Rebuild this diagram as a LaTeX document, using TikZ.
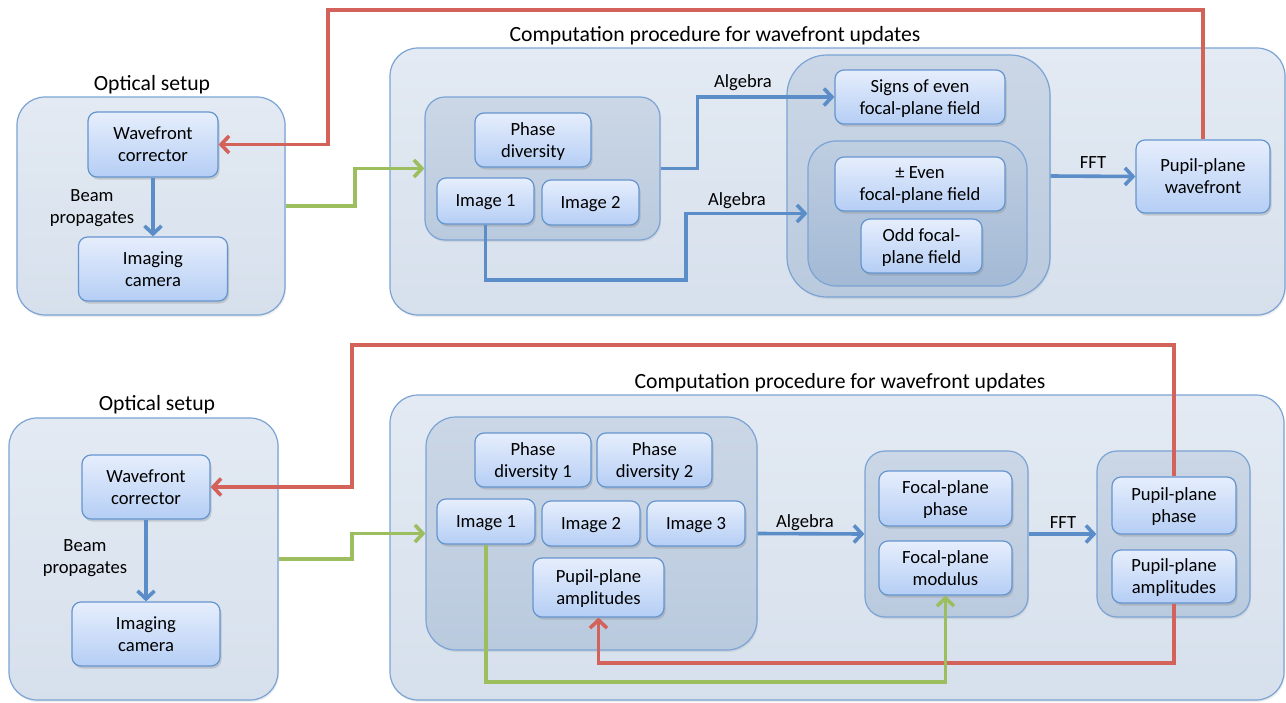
\documentclass[tikz,border=0pt]{standalone}
\usepackage{fontspec}
\setmainfont{Carlito}
\usetikzlibrary{arrows.meta,shadows}
\definecolor{obord}{HTML}{7BA3D4}
\definecolor{outtop}{HTML}{E3EAF3}
\definecolor{outbot}{HTML}{D6E0EC}
\definecolor{gtop}{HTML}{CBD7E6}
\definecolor{gbot}{HTML}{BACADE}
\definecolor{itop}{HTML}{BFCEE1}
\definecolor{ibot}{HTML}{A3B9D5}
\definecolor{sbord}{HTML}{6595CE}
\definecolor{stop}{HTML}{E6EEFC}
\definecolor{sbot}{HTML}{B5CEF5}
\definecolor{bluearr}{HTML}{5B8DC8}
\definecolor{redarr}{HTML}{D3625B}
\definecolor{greenarr}{HTML}{9DBE5E}
\tikzset{
  outerbox/.style={draw=obord, line width=1.2pt, rounded corners=28pt, top color=outtop, bottom color=outbot, inner sep=0pt,
    drop shadow={shadow xshift=1pt, shadow yshift=-2pt, opacity=0.15}},
  grpbox/.style={draw=obord, line width=1.2pt, rounded corners=20pt, top color=gtop, bottom color=gbot, inner sep=0pt,
    drop shadow={shadow xshift=1pt, shadow yshift=-2pt, opacity=0.15}},
  innbox/.style={draw=obord, line width=1.2pt, rounded corners=28pt, top color=itop, bottom color=ibot, inner sep=0pt},
  smallbox/.style={draw=sbord, line width=1.2pt, rounded corners=9pt, top color=stop, bottom color=sbot, inner sep=0pt,
    align=center, font=\fontsize{18.6}{22}\selectfont, text depth=0pt,
    drop shadow={shadow xshift=1.5pt, shadow yshift=-2.5pt, opacity=0.3}},
  lbl/.style={align=center, font=\fontsize{18.6}{22}\selectfont, inner sep=0pt},
  ttl/.style={font=\fontsize{21.7}{25}\selectfont, inner sep=0pt},
  conn/.style={line width=3.6pt, -{Straight Barb[length=8pt,width=17pt]}},
  bconn/.style={conn, draw=bluearr},
  rconn/.style={conn, draw=redarr},
  gconn/.style={conn, draw=greenarr}
}
\begin{document}
\begin{tikzpicture}[x=1pt,y=-1pt]
\useasboundingbox[fill=white] (0,0) rectangle (1286,702);

% ===== TOP =====
\node[ttl] (tOptA) at (152,85) {Optical setup};
\node[outerbox, minimum width=268pt, minimum height=218pt] (optA) at (151,206) {};
\node[smallbox, minimum width=130pt, minimum height=65pt] (wfA) at (153,144.5) {Wavefront\\corrector};
\node[smallbox, minimum width=149pt, minimum height=64pt] (camA) at (153,269) {Imaging\\camera};
\node[lbl] (beamA) at (92,208) {Beam\\propagates};

\node[ttl] (tCompA) at (715,36) {Computation procedure for wavefront updates};
\node[outerbox, minimum width=895pt, minimum height=267pt] (compA) at (837.5,181.5) {};
\node[grpbox, minimum width=235pt, minimum height=143pt] (grpA) at (542.5,168.5) {};
\node[smallbox, minimum width=116pt, minimum height=54pt] (pdA) at (533,140) {Phase\\diversity};
\node[smallbox, minimum width=97pt, minimum height=46pt] (im1A) at (485.5,201) {Image 1};
\node[smallbox, minimum width=97pt, minimum height=45pt] (im2A) at (590.5,202.5) {Image 2};

\node[grpbox, rounded corners=40pt, minimum width=263pt, minimum height=242pt] (midA) at (918.5,176) {};
\node[smallbox, minimum width=170pt, minimum height=54pt] (sgA) at (920,97) {Signs of even\\focal-plane field};
\node[innbox, minimum width=219pt, minimum height=145pt] (inA) at (917.5,213.5) {};
\node[smallbox, minimum width=170pt, minimum height=54pt] (evA) at (920,184) {± Even\\focal-plane field};
\node[smallbox, minimum width=121pt, minimum height=54pt] (odA) at (921.5,246) {Odd focal-\\plane field};

\node[smallbox, minimum width=134pt, minimum height=73pt] (ppA) at (1203,176.5) {Pupil-plane\\wavefront};

\node[lbl] (alg1A) at (743,83) {Algebra};
\node[lbl] (alg2A) at (737,201) {Algebra};
\node[lbl] (fftA) at (1093,163) {FFT};

\coordinate (rA1) at (328,10);
\coordinate (gA1) at (355,168.5);
\coordinate (aA2) at (686,280);

\draw[bconn] (wfA.south) -- (camA.north);
\draw[rconn] (ppA.north) |- (rA1) |- (wfA.east);
\draw[gconn] (optA.east) -| (gA1) -- (grpA.west);
\draw[bconn] (grpA.east) -- ++(37,0) |- (sgA.west);
\draw[bconn] (im1A.south) |- (aA2) |- (inA.west);
\draw[bconn] (midA.east) -- (ppA.west);

% ===== BOTTOM =====
\node[ttl] (tOptB) at (157,405) {Optical setup};
\node[outerbox, minimum width=269pt, minimum height=282pt] (optB) at (143.5,559) {};
\node[smallbox, minimum width=128pt, minimum height=64pt] (wfB) at (146,487) {Wavefront\\corrector};
\node[smallbox, minimum width=148pt, minimum height=64pt] (camB) at (146,634) {Imaging\\camera};
\node[lbl] (beamB) at (85,558) {Beam\\propagates};

\node[ttl] (tCompB) at (840,383) {Computation procedure for wavefront updates};
\node[outerbox, minimum width=894pt, minimum height=305pt] (compB) at (837,547.5) {};
\node[grpbox, rounded corners=30pt, minimum width=331pt, minimum height=233pt] (grpB) at (591.5,533.5) {};
\node[smallbox, minimum width=116pt, minimum height=54pt] (pd1B) at (533,460) {Phase\\diversity 1};
\node[smallbox, minimum width=115pt, minimum height=54pt] (pd2B) at (654.5,460) {Phase\\diversity 2};
\node[smallbox, minimum width=98pt, minimum height=45pt] (i1B) at (486,521.5) {Image 1};
\node[smallbox, minimum width=98pt, minimum height=45pt] (i2B) at (591,523.5) {Image 2};
\node[smallbox, minimum width=98pt, minimum height=45pt] (i3B) at (696,523.5) {Image 3};
\node[smallbox, minimum width=131pt, minimum height=59pt] (paB) at (598.5,587.5) {Pupil-plane\\amplitudes};

\node[grpbox, minimum width=163pt, minimum height=166pt] (fgB) at (946.5,534) {};
\node[smallbox, minimum width=133pt, minimum height=55pt] (fpB) at (945.5,498.5) {Focal-plane\\phase};
\node[smallbox, minimum width=133pt, minimum height=54pt] (fmB) at (945.5,568) {Focal-plane\\modulus};

\node[grpbox, minimum width=153pt, minimum height=166pt] (pgB) at (1173.5,534) {};
\node[smallbox, minimum width=124pt, minimum height=57pt] (pphB) at (1174,505.5) {Pupil-plane\\phase};
\node[smallbox, minimum width=124pt, minimum height=53pt] (pamB) at (1174,576.5) {Pupil-plane\\amplitudes};

\node[lbl] (algB) at (805,523) {Algebra};
\node[lbl] (fftB) at (1063,523) {FFT};

\coordinate (rB1) at (352,345);
\coordinate (gB1) at (352,533.5);
\coordinate (rB2) at (598.5,663);
\coordinate (gB2) at (945.5,682);

\draw[bconn] (wfB.south) -- (camB.north);
\draw[rconn] (pphB.north) |- (rB1) |- (wfB.east);
\draw[gconn] (optB.east) -| (gB1) -- (grpB.west);
\draw[bconn] (grpB.east) -- (fgB.west);
\draw[bconn] (fgB.east) -- (pgB.west);
\draw[rconn] (pamB.south) |- (rB2) -- (paB.south);
\draw[gconn] (i1B.south) |- (gB2) -- (fmB.south);
\end{tikzpicture}
\end{document}
